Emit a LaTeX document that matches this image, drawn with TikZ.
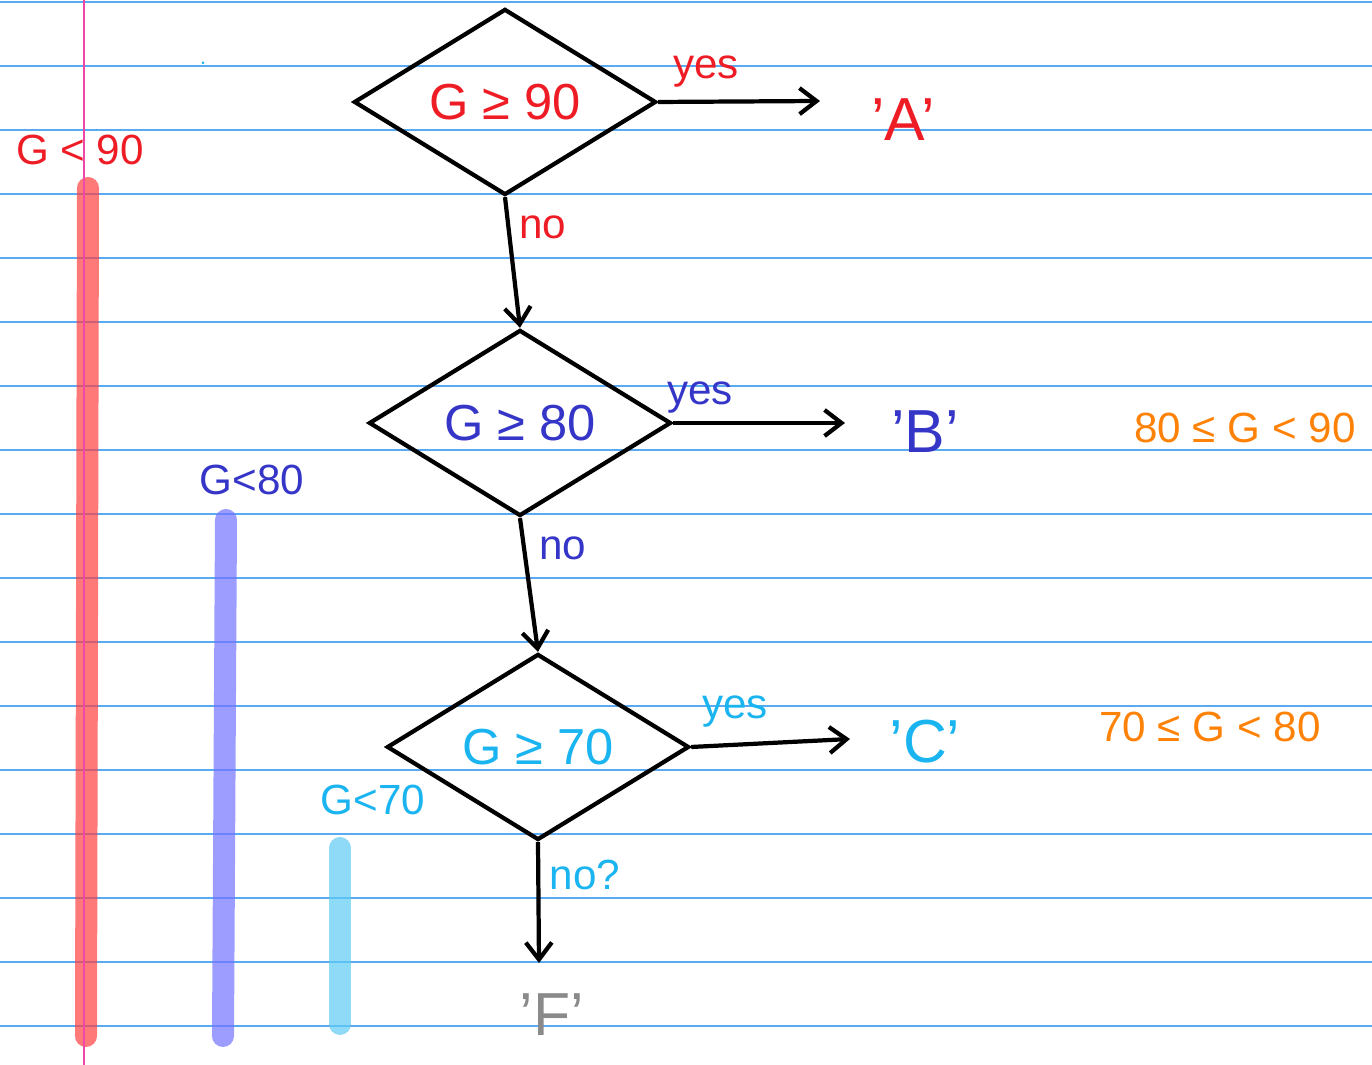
\documentclass[tikz,border=0pt]{standalone}
\usepackage{fontspec}
\setmainfont{Liberation Sans}
\usetikzlibrary{shapes.geometric, arrows.meta}
\definecolor{inkred}{HTML}{EE1C25}
\definecolor{inkblue}{HTML}{3535C8}
\definecolor{inkcyan}{HTML}{1AB4F0}
\definecolor{inkorange}{HTML}{FF8208}
\definecolor{inkgrey}{HTML}{8A8A8A}
\definecolor{ruleblue}{HTML}{5AAAF2}
\definecolor{marginpink}{HTML}{F048A8}

\begin{document}
\begin{tikzpicture}[x=0.01cm, y=-0.01cm,
    decision/.style={diamond, draw=black, line width=1.2pt, inner sep=0pt, aspect=1.63,
        minimum width=3.02cm, minimum height=1.86cm, font=\Large},
    flow/.style={draw=black, line width=1.2pt, -{Straight Barb[length=0.17cm, width=0.26cm]}},
    ruled/.style={draw=ruleblue, line width=0.6pt},
    bar/.style={line width=0.22cm, line cap=round, opacity=0.7},
    tag/.style={font=\large},
    answer/.style={font=\LARGE}]
    \useasboundingbox (0,0) rectangle (1372,1065);
    \foreach \k in {0,...,16}
        \draw[ruled] (0,2+64*\k) -- (1372,2+64*\k);

    \coordinate (r1) at (88,188);  \coordinate (r2) at (86,1036);
    \coordinate (b1) at (226,520); \coordinate (b2) at (223,1036);
    \coordinate (c1) at (340,848); \coordinate (c2) at (340,1024);
    \draw[bar, draw=red!75!white] (r1) -- (r2);
    \draw[bar, draw=blue!55!white] (b1) -- (b2);
    \draw[bar, draw=inkcyan!70!white] (c1) -- (c2);
    \draw[marginpink, line width=0.6pt] (84,0) -- (84,1065);
    \fill[inkcyan] (203,63) circle (1.5);

    \node[decision, text=inkred] (d1) at (505,102) {G ≥ 90};
    \node[decision, text=inkblue] (d2) at (520,423) {G ≥ 80};
    \node[decision, text=inkcyan] (d3) at (538,747) {G ≥ 70};

    \node[answer, text=inkred] (A) at (903,120) {'A'};
    \node[answer, text=inkblue] (B) at (925,432) {'B'};
    \node[answer, text=inkcyan] (C) at (925,742) {'C'};
    \node[answer, text=inkgrey] (F) at (552,1015) {'F'};

    \coordinate (yA) at (820,101);
    \coordinate (yB) at (845,423);
    \coordinate (yC) at (850,739);
    \coordinate (nF) at (539,963);

    \draw[flow] (d1.east) -- (yA);
    \draw[flow] (d2.east) -- (yB);
    \draw[flow] (d3.east) -- (yC);
    \draw[flow] (d1.south) -- (d2.north);
    \draw[flow] (d2.south) -- (d3.north);
    \draw[flow] (d3.south) -- (nF);

    \node[tag, text=inkred] (yes1) at (706,72) {yes};
    \node[tag, text=inkred] (no1) at (543,227) {no};
    \node[tag, text=inkblue] (yes2) at (700,398) {yes};
    \node[tag, text=inkblue] (no2) at (563,548) {no};
    \node[tag, text=inkcyan] (yes3) at (735,712) {yes};
    \node[tag, text=inkcyan] (no3) at (585,875) {no?};

    \node[tag, text=inkred] (lt90) at (80,150) {G < 90};
    \node[tag, text=inkblue] (lt80) at (252,480) {G<80};
    \node[tag, text=inkcyan] (lt70) at (373,800) {G<70};
    \node[tag, text=inkorange] (rngB) at (1245,428) {80 ≤ G < 90};
    \node[tag, text=inkorange] (rngC) at (1210,727) {70 ≤ G < 80};
\end{tikzpicture}
\end{document}
